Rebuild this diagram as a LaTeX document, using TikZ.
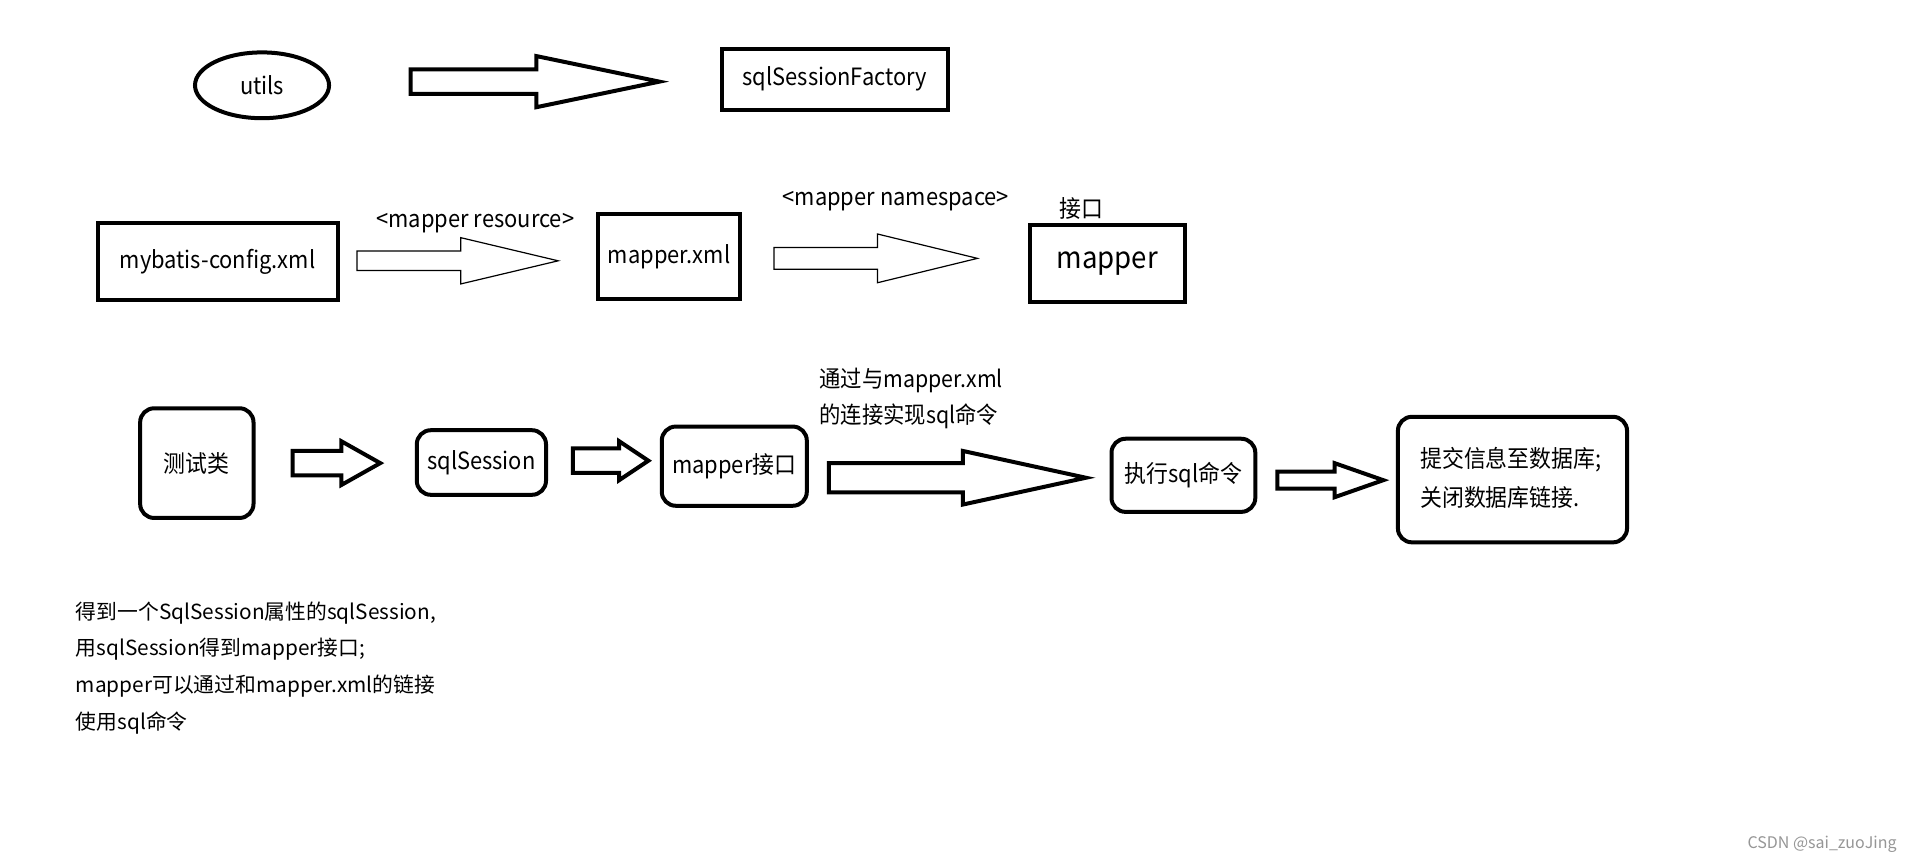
\documentclass[tikz,border=0pt]{standalone}
\usepackage{fontspec}
\setmainfont{Noto Sans CJK SC}
\newfontfamily\condfont[FakeStretch=0.92]{Noto Sans CJK SC}
\usetikzlibrary{shapes.geometric}
\def\px{0.6094pt}
\definecolor{wm}{RGB}{150,150,150}
\tikzset{
  sqbox/.style={draw, line width=2pt, inner sep=0pt, font=\condfont\fontsize{11.9}{14}\selectfont},
  rbox/.style={sqbox, rounded corners=7pt},
  thickarrow/.style={draw, line width=2pt, line join=miter, fill=white},
  thinarrow/.style={draw, line width=0.6pt, fill=white},
  lbl/.style={font=\condfont\fontsize{11.9}{14}\selectfont, inner sep=0pt},
}
\newcommand{\barrow}[7]{%
  \draw[#1] (#2,#5-#6) -- (#3,#5-#6) -- (#3,#5-#7) -- (#4,#5) -- (#3,#5+#7) -- (#3,#5+#6) -- (#2,#5+#6) -- cycle;}
\begin{document}
\begin{tikzpicture}[x=0.6094pt, y=-0.6094pt]
\useasboundingbox (0,0) rectangle (1568,709);
\fill[white] (0,0) rectangle (1568,709);
% row 1
\node[draw, ellipse, line width=2pt, inner sep=0pt, minimum width=110*\px, minimum height=54*\px, font=\condfont\fontsize{11.9}{14}\selectfont] (utils) at (215,70) {utils};
\barrow{thickarrow}{337}{440}{541}{67}{10}{21}
\node[sqbox, minimum width=186*\px, minimum height=50*\px] (fac) at (685,65) {sqlSessionFactory};
% row 2
\node[sqbox, minimum width=197*\px, minimum height=63*\px] (cfg) at (178.5,214.5) {mybatis-config.xml};
\barrow{thinarrow}{293}{378}{458}{214}{8}{19}
\node[lbl] (res) at (390,183) {<mapper resource>};
\node[sqbox, minimum width=116*\px, minimum height=69*\px] (mxml) at (549,210.5) {mapper.xml};
\barrow{thinarrow}{635}{720}{802}{212}{9}{20}
\node[lbl] (ns) at (735,165) {<mapper namespace>};
\node[sqbox, minimum width=127*\px, minimum height=63*\px, font=\condfont\fontsize{15}{17}\selectfont] (mapper) at (908.5,216.5) {mapper};
\node[lbl] (jk) at (887,171) {接口};
% row 3
\node[rbox, minimum width=93*\px, minimum height=90*\px] (test) at (161.5,380) {测试类};
\barrow{thickarrow}{240}{280}{312}{380}{10}{18}
\node[rbox, minimum width=106*\px, minimum height=53*\px] (sess) at (395,379.5) {sqlSession};
\barrow{thickarrow}{470}{508}{532}{378}{10}{16}
\node[rbox, minimum width=119*\px, minimum height=65*\px] (mif) at (602.5,382.5) {mapper接口};
\node[lbl, anchor=west, align=left, font=\condfont\fontsize{11.6}{18.3}\selectfont] (via) at (672,327) {通过与mapper.xml\\的连接实现sql命令};
\barrow{thickarrow}{680}{790}{891}{392}{12}{22}
\node[rbox, minimum width=118*\px, minimum height=60*\px] (exec) at (971,390) {执行sql命令};
\barrow{thickarrow}{1048}{1095}{1135}{394}{7}{14}
\node[rbox, minimum width=188*\px, minimum height=103*\px] (final) at (1241,393.5) {};
\node[lbl, anchor=west, align=left, font=\condfont\fontsize{11.9}{19.5}\selectfont] (finaltext) at (1165,392) {提交信息至数据库;\\关闭数据库链接.};
% bottom text
\node[anchor=west, align=left, inner sep=0pt, font=\fontsize{10.4}{18.3}\selectfont] (note) at (62,548) {得到一个SqlSession属性的sqlSession,\\用sqlSession得到mapper接口;\\mapper可以通过和mapper.xml的链接\\使用sql命令};
\node[inner sep=0pt, text=wm, font=\fontsize{8}{10}\selectfont] (csdn) at (1495,693) {CSDN @sai\_zuoJing};
\end{tikzpicture}
\end{document}
